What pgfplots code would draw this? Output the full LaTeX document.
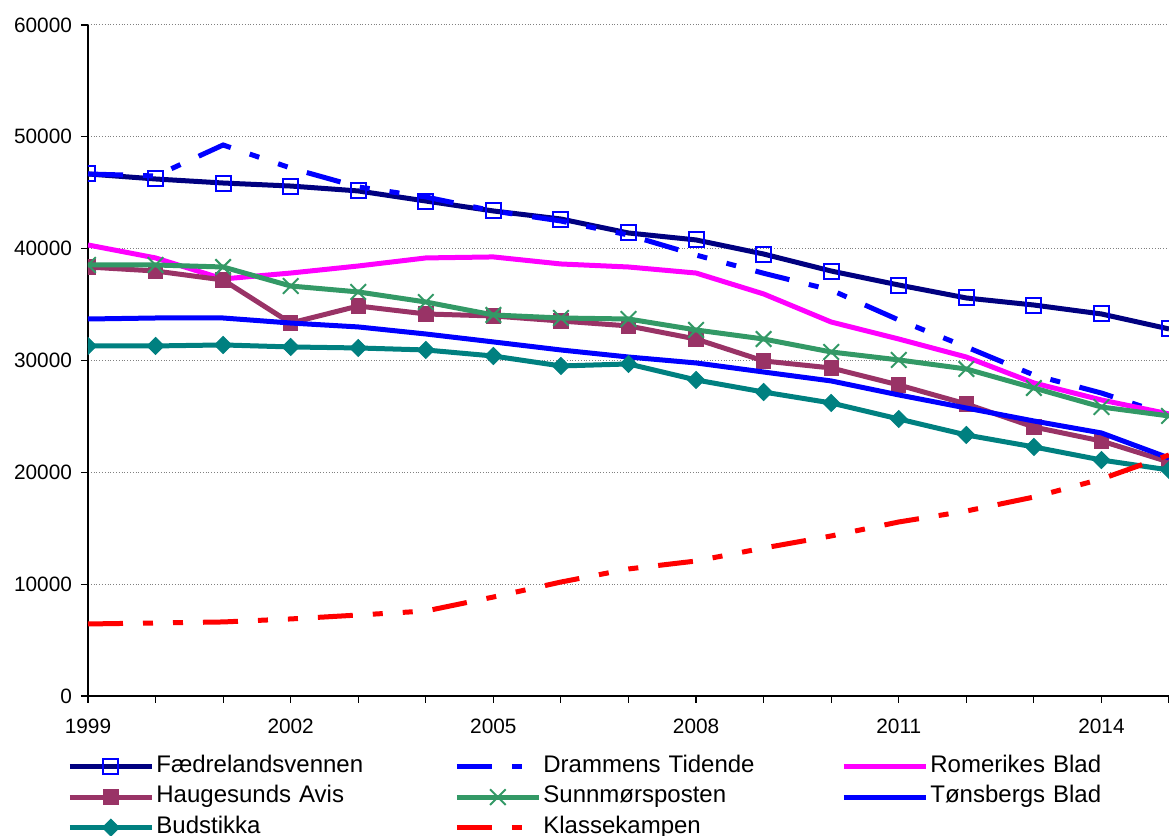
\documentclass[border=0pt]{standalone}
\usepackage{pgfplots}
\pgfplotsset{compat=1.18}
\usepackage{fontspec}
\setmainfont{Liberation Sans}

\definecolor{navyline}{HTML}{000080}
\definecolor{pureblue}{HTML}{0000FF}
\definecolor{magline}{HTML}{FF00FF}
\definecolor{maroon}{HTML}{993366}
\definecolor{seagreen}{HTML}{339966}
\definecolor{tealline}{HTML}{008080}
\definecolor{redline}{HTML}{FF0000}

\tikzset{xldash/.style={dash pattern=on 17.5pt off 10pt on 5pt off 10pt on 5pt off 10pt}}

\begin{document}
\begin{tikzpicture}
\begin{axis}[
    scale only axis,
    width=540.5pt, height=335.5pt,
    xmin=1999, xmax=2015,
    ymin=0, ymax=60000,
    axis x line*=bottom, axis y line*=left,
    xtick={1999,2002,2005,2008,2011,2014},
    minor xtick={1999,...,2015},
    ytick={0,10000,...,60000},
    scaled y ticks=false,
    tick align=outside,
    major tick length=3.5pt, minor tick length=3.5pt,
    tick style={black, line width=0.6pt},
    axis line style={black, line width=0.7pt},
    ymajorgrids,
    grid style={gray, densely dotted, line width=0.5pt},
    /pgf/number format/1000 sep={},
    /pgf/number format/assume math mode=true,
    ticklabel style={font=\fontsize{10.4pt}{12pt}\selectfont},
    xticklabel style={yshift=-4.5pt},
    yticklabel style={xshift=-1pt},
    clip marker paths=true,
    every axis plot/.append style={line width=2.5pt},
    legend columns=3,
    legend cell align=left,
    legend image code/.code={
        \draw[mark repeat=2,mark phase=2,#1] plot coordinates {(0pt,0pt) (20.5pt,0pt) (41pt,0pt)};
    },
    legend style={
        draw=none, fill=none, inner sep=0pt,
        at={(axis description cs:0,0)}, anchor=north west,
        xshift=-10.5pt, yshift=-27.5pt,
        font=\fontsize{12pt}{14pt}\selectfont,
        row sep=0pt, column sep=0pt,
        nodes={text width=148pt, text height=8.5pt, text depth=2.75pt, inner xsep=1pt, inner ysep=2pt, align=left},
    },
]
\coordinate (sw) at (rel axis cs:0,0);
\coordinate (ne) at (rel axis cs:1,1);

\addplot[navyline, mark=square, mark size=3.75pt, mark options={pureblue, solid, line width=1pt}] coordinates {
(1999,46680) (2000,46230) (2001,45870) (2002,45600) (2003,45160) (2004,44260)
(2005,43370) (2006,42650) (2007,41400) (2008,40780) (2009,39520) (2010,38000)
(2011,36750) (2012,35590) (2013,34960) (2014,34160) (2015,32820)
};
\addlegendentry{Fædrelandsvennen}

\addplot[pureblue, xldash] coordinates {
(1999,46680) (2000,46500) (2001,49270) (2002,47210) (2003,45520) (2004,44620)
(2005,43370) (2006,42470) (2007,41220) (2008,39430) (2009,37800) (2010,36300)
(2011,33620) (2012,31210) (2013,28700) (2014,27090) (2015,25100)
};
\addlegendentry{Drammens Tidende}

\addplot[magline] coordinates {
(1999,40330) (2000,39170) (2001,37290) (2002,37820) (2003,38450) (2004,39170)
(2005,39260) (2006,38630) (2007,38360) (2008,37820) (2009,35950) (2010,33440)
(2011,31920) (2012,30310) (2013,27990) (2014,26470) (2015,25220)
};
\addlegendentry{Romerikes Blad}

\addplot[maroon, mark=square*, mark size=3.6pt, mark options={solid, line width=0.5pt}] coordinates {
(1999,38360) (2000,38000) (2001,37200) (2002,33350) (2003,34870) (2004,34160)
(2005,33980) (2006,33530) (2007,33090) (2008,31920) (2009,29960) (2010,29330)
(2011,27810) (2012,26110) (2013,24050) (2014,22800) (2015,20920)
};
\addlegendentry{Haugesunds Avis}

\addplot[seagreen, mark=x, mark size=5.5pt, mark options={solid, line width=1pt}] coordinates {
(1999,38540) (2000,38540) (2001,38360) (2002,36660) (2003,36130) (2004,35230)
(2005,34070) (2006,33800) (2007,33710) (2008,32730) (2009,31920) (2010,30760)
(2011,30050) (2012,29240) (2013,27540) (2014,25840) (2015,25040)
};
\addlegendentry{Sunnmørsposten}

\addplot[pureblue] coordinates {
(1999,33710) (2000,33800) (2001,33800) (2002,33350) (2003,33000) (2004,32370)
(2005,31660) (2006,30940) (2007,30310) (2008,29780) (2009,28970) (2010,28170)
(2011,26920) (2012,25750) (2013,24590) (2014,23520) (2015,21280)
};
\addlegendentry{Tønsbergs Blad}

\addplot[tealline, mark=square*, mark size=3pt, mark options={solid, rotate=45, line width=0.5pt}] coordinates {
(1999,31300) (2000,31300) (2001,31390) (2002,31210) (2003,31120) (2004,30940)
(2005,30400) (2006,29510) (2007,29690) (2008,28260) (2009,27180) (2010,26200)
(2011,24770) (2012,23340) (2013,22270) (2014,21100) (2015,20210)
};
\addlegendentry{Budstikka}

\addplot[redline, xldash] coordinates {
(1999,6440) (2000,6530) (2001,6620) (2002,6890) (2003,7240) (2004,7600)
(2005,8850) (2006,10190) (2007,11360) (2008,12070) (2009,13230) (2010,14310)
(2011,15560) (2012,16540) (2013,17790) (2014,19400) (2015,21550)
};
\addlegendentry{Klassekampen}
\end{axis}
\pgfresetboundingbox
\path[use as bounding box] ([shift={(-44pt,-70pt)}]sw) rectangle ([shift={(0pt,12.5pt)}]ne);
\end{tikzpicture}
\end{document}
